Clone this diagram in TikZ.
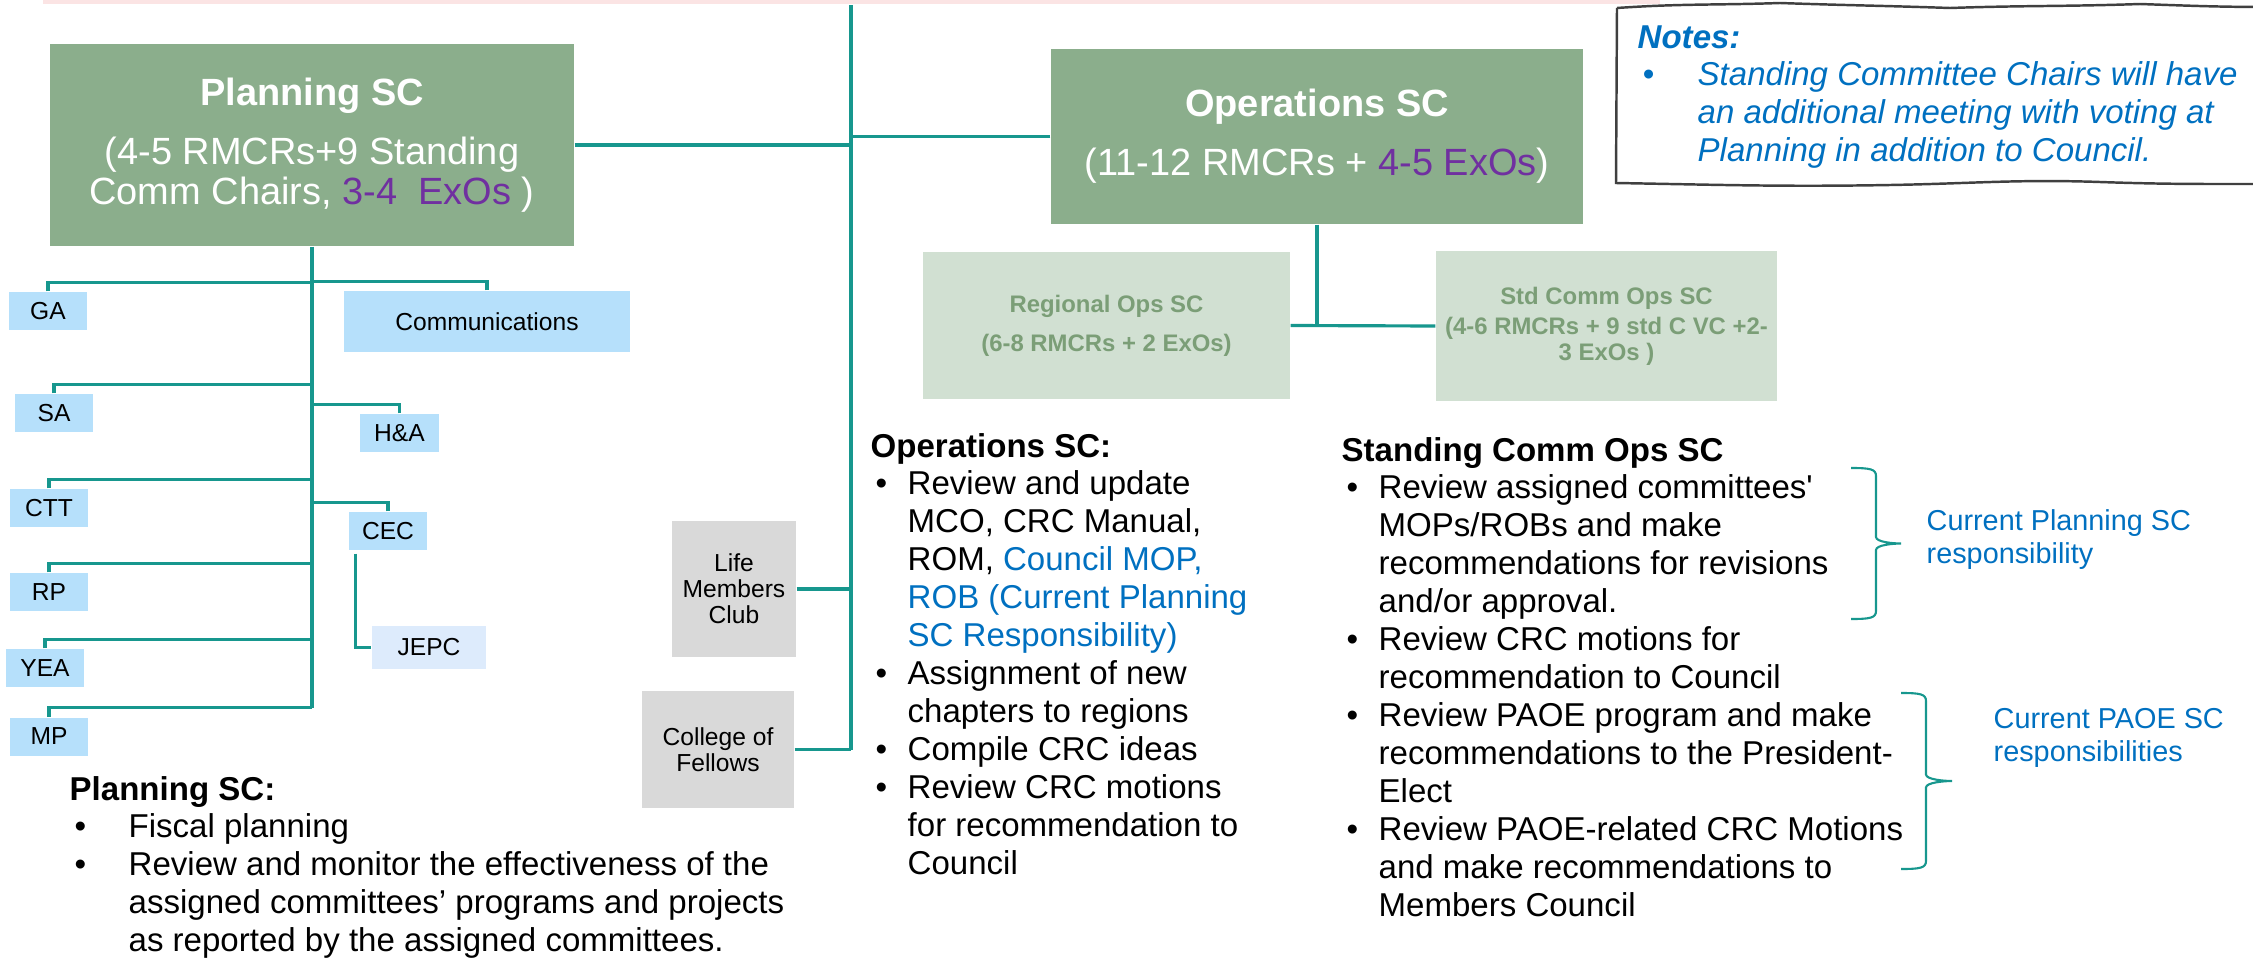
\documentclass[tikz,border=0pt]{standalone}
\usepackage{fontspec}
\setmainfont{Liberation Sans}
\newfontfamily\plainsans{Liberation Sans}
\usepackage{xcolor}

\definecolor{sage}{HTML}{8BAE8C}
\definecolor{palesage}{HTML}{D1E0D2}
\definecolor{sagetext}{HTML}{7B9E77}
\definecolor{skyblue}{HTML}{B6E0FB}
\definecolor{paleblue}{HTML}{DDEBFC}
\definecolor{greybox}{HTML}{D9D9D9}
\definecolor{conn}{HTML}{17978E}
\definecolor{exo}{HTML}{7030A0}
\definecolor{noteblue}{HTML}{0070C0}
\definecolor{topband}{HTML}{FBE4E4}

\newcommand{\bodyfont}{\fontsize{9.4}{10.8}\selectfont}
\newcommand{\dutydot}{\hspace*{0.05cm}\textbullet}

\begin{document}
\begin{tikzpicture}[text=black,
  scbox/.style={fill=sage, text=white, align=center, inner sep=0pt,
    font=\fontsize{10.8}{11.4}\selectfont},
  subsc/.style={fill=palesage, text=sagetext, align=center, inner sep=0pt,
    font=\bfseries\fontsize{6.8}{7.2}\selectfont},
  cmte/.style={fill=skyblue, inner sep=0pt, minimum width=0.78cm,
    minimum height=0.38cm, font=\fontsize{7}{7.4}\selectfont},
  club/.style={fill=greybox, align=center, inner sep=0pt,
    font=\fontsize{7}{7.4}\selectfont},
  link/.style={draw=conn, line width=0.9pt},
  duty/.style={anchor=base west, inner sep=0pt, font=\bodyfont},
  remark/.style={anchor=base west, inner sep=0pt, text=noteblue,
    font=\fontsize{8.2}{9.4}\selectfont},
  bracket/.style={draw=conn, line width=0.6pt},
  sketch/.style={draw=black!75, line width=0.7pt}]

\useasboundingbox (0,0) rectangle (22.53,9.60);
\fill[topband] (0.43,9.56) rectangle (16.60,9.60);

% steering committees
\node (plan) [scbox, minimum width=5.24cm, minimum height=2.02cm] at (3.12,8.15)
  {\textbf{Planning SC}\\[5.4pt](4-5 RMCRs+9 Standing\\
   Comm Chairs, \textcolor{exo}{3-4\ \ ExOs} )};
\node (ops) [scbox, minimum width=5.32cm, minimum height=1.75cm] at (13.17,8.235)
  {\textbf{Operations SC}\\[5.4pt](11-12 RMCRs + \textcolor{exo}{4-5 ExOs})};

\node (reg) [subsc, minimum width=3.67cm, minimum height=1.47cm] at (11.065,6.345)
  {Regional Ops SC\\[4pt](6-8 RMCRs + 2 ExOs)};
\node (std) [subsc, minimum width=3.41cm, minimum height=1.50cm] at (16.065,6.34)
  {Std Comm Ops SC\\[1.5pt](4-6 RMCRs + 9 std C VC +2-\\3 ExOs )};

% planning committees
\node (ga) [cmte] at (0.48,6.49) {GA};
\node (comm) [cmte, minimum width=2.86cm, minimum height=0.61cm] at (4.87,6.385) {Communications};
\node (sa) [cmte] at (0.54,5.47) {SA};
\node (ha) [cmte, minimum width=0.79cm] at (3.995,5.27) {H\&A};
\node (ctt) [cmte] at (0.49,4.52) {CTT};
\node (cec) [cmte] at (3.88,4.29) {CEC};
\node (rp) [cmte] at (0.49,3.68) {RP};
\node (yea) [cmte] at (0.45,2.92) {YEA};
\node (mp) [cmte] at (0.49,2.235) {MP};
\node (jepc) [cmte, fill=paleblue, minimum width=1.14cm, minimum height=0.43cm]
  at (4.29,3.125) {JEPC};

\node (life) [club, minimum width=1.24cm, minimum height=1.36cm] at (7.34,3.71)
  {Life\\Members\\Club};
\node (college) [club, minimum width=1.52cm, minimum height=1.17cm] at (7.18,2.105)
  {College of\\Fellows};

% main spine
\coordinate (spine) at (8.51,9.55);
\draw[link] (spine) -- (spine |- college.east);
\foreach \n in {plan, life, college}
  \draw[link] (\n.east) -- (\n.east -| spine);
\draw[link] (ops.west) -- (ops.west -| spine);

% planning tree
\foreach \n in {ga, comm, sa, ha, ctt, cec, rp, yea, mp}
  \draw[link] (\n.north) -- ++(0,0.09) coordinate (\n-in) -- (\n-in -| plan.south);
\draw[link] (plan.south) -- (mp-in -| plan.south);
\draw[link] ([xshift=0.07cm, yshift=-0.03cm]cec.south west) |- (jepc.west);

% operations tree
\draw[link] (ops.south) -- (ops.south |- reg.east);
\draw[link] (reg.east) -- (std.west);

% duties
\node (plantasks) [duty] at (0.69,1.60) {\begin{tabular}[t]{@{}p{0.59cm}@{}l@{}}
  \multicolumn{2}{@{}l@{}}{\textbf{Planning SC:}}\\
  \dutydot & Fiscal planning\\
  \dutydot & Review and monitor the effectiveness of the\\
  & assigned committees’ programs and projects\\
  & as reported by the assigned committees.
\end{tabular}};

\node (opstasks) [duty] at (8.70,5.03) {\begin{tabular}[t]{@{}p{0.37cm}@{}l@{}}
  \multicolumn{2}{@{}l@{}}{\textbf{Operations SC:}}\\
  \dutydot & Review and update\\
  & MCO, CRC Manual,\\
  & ROM, \textcolor{noteblue}{Council MOP,}\\
  & \textcolor{noteblue}{ROB (Current Planning}\\
  & \textcolor{noteblue}{SC Responsibility)}\\
  \dutydot & Assignment of new\\
  & chapters to regions\\
  \dutydot & Compile CRC ideas\\
  \dutydot & Review CRC motions\\
  & for recommendation to\\
  & Council
\end{tabular}};

\node (stdtasks) [duty] at (13.41,4.99) {\begin{tabular}[t]{@{}p{0.37cm}@{}l@{}}
  \multicolumn{2}{@{}l@{}}{\textbf{Standing Comm Ops SC}}\\
  \dutydot & Review assigned committees{\plainsans '}\\
  & MOPs/ROBs and make\\
  & recommendations for revisions\\
  & and/or approval.\\
  \dutydot & Review CRC motions for\\
  & recommendation to Council\\
  \dutydot & Review PAOE program and make\\
  & recommendations to the President-\\
  & Elect\\
  \dutydot & Review PAOE-related CRC Motions\\
  & and make recommendations to\\
  & Members Council
\end{tabular}};

% braces and remarks
\coordinate (b1top) at (18.51,4.92);
\coordinate (b1tip) at (19.01,4.165);
\coordinate (b1bot) at (18.51,3.41);
\draw[bracket] (b1top) .. controls +(0.19,0) and +(0,0.07) .. (18.76,4.84)
  -- (18.76,4.23) .. controls +(0,-0.05) and +(-0.08,0) .. (b1tip)
  .. controls +(-0.08,0) and +(0,0.05) .. (18.76,4.10)
  -- (18.76,3.49) .. controls +(0,-0.07) and +(0.19,0) .. (b1bot);
\coordinate (b2top) at (19.01,2.67);
\coordinate (b2tip) at (19.52,1.79);
\coordinate (b2bot) at (19.01,0.91);
\draw[bracket] (b2top) .. controls +(0.19,0) and +(0,0.07) .. (19.26,2.59)
  -- (19.26,1.855) .. controls +(0,-0.05) and +(-0.08,0) .. (b2tip)
  .. controls +(-0.08,0) and +(0,0.05) .. (19.26,1.725)
  -- (19.26,0.99) .. controls +(0,-0.07) and +(0.19,0) .. (b2bot);

\node (planresp) [remark] at (19.26,4.30)
  {\begin{tabular}[t]{@{}l@{}}Current Planning SC\\responsibility\end{tabular}};
\node (paoeresp) [remark] at (19.93,2.32)
  {\begin{tabular}[t]{@{}l@{}}Current PAOE SC\\responsibilities\end{tabular}};

% notes
\node (notes) [duty, text=noteblue, font=\bodyfont\itshape] at (16.37,9.12)
  {\begin{tabular}[t]{@{}p{0.60cm}@{}l@{}}
  \multicolumn{2}{@{}l@{}}{\textbf{Notes:}}\\
  \dutydot & Standing Committee Chairs will have\\
  & an additional meeting with voting at\\
  & Planning in addition to Council.
\end{tabular}};
\draw[sketch] (16.17,9.52) -- (16.16,7.77) to[out=-1,in=181] (18.9,7.75)
  to[out=1,in=178] (21.0,7.78) to[out=-2,in=180] (22.7,7.76);
\draw[sketch] (16.17,9.52) to[out=4,in=182] (17.8,9.57) to[out=-2,in=178] (19.5,9.52)
  to[out=2,in=182] (21.4,9.56) to[out=-2,in=180] (22.7,9.53);

\end{tikzpicture}
\end{document}
